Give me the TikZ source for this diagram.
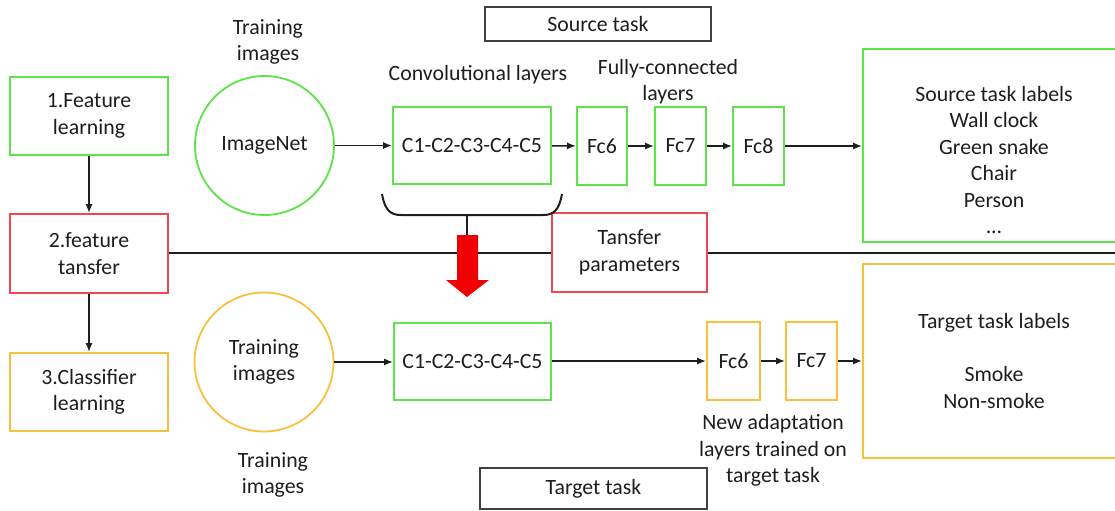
\documentclass[tikz,border=0pt]{standalone}
\usepackage{fontspec}
\setmainfont{Carlito}
\usetikzlibrary{arrows.meta}
\definecolor{cGreen}{RGB}{92,228,72}
\definecolor{cRed}{RGB}{240,72,80}
\definecolor{cOrange}{RGB}{250,192,60}
\definecolor{cInk}{RGB}{30,30,30}
\definecolor{cArrow}{RGB}{240,0,0}
\begin{document}
\begin{tikzpicture}[x=0.5pt,y=-0.5pt,
  font=\fontsize{10.9pt}{13.25pt}\selectfont,
  every node/.style={text=cInk, align=center, inner sep=0pt},
  boxbase/.style={draw, line width=1pt},
  greenbox/.style={boxbase, draw=cGreen},
  redbox/.style={boxbase, draw=cRed},
  orangebox/.style={boxbase, draw=cOrange},
  plainbox/.style={boxbase, draw=cInk!85},
  disc/.style={circle, line width=0.9pt, minimum size=69.5pt},
  conn/.style={draw=cInk, line width=0.8pt, -{Latex[length=4.5pt,width=3.6pt]}},
  rule/.style={draw=cInk, line width=1pt}]
\useasboundingbox (0,0) rectangle (1115,510);
\fill[white] (0,0) rectangle (1115,510);
\clip (0,0) rectangle (1115,510);

% left column: the three stages
\node[greenbox, minimum width=79pt, minimum height=39pt] (stage1) at (89,116) {1.Feature\\learning};
\node[redbox, minimum width=79pt, minimum height=39.5pt] (stage2) at (89,253.5) {2.feature\\tansfer};
\node[orangebox, minimum width=79pt, minimum height=39pt] (stage3) at (89,392) {3.Classifier\\learning};
\draw[conn] (stage1) -- (stage2);
\draw[conn] (stage2) -- (stage3);

% source task row
\node[plainbox, minimum width=113pt, minimum height=17pt] (srctask) at (598,24) {Source task};
\node (trainA) at (268,42) {Training\\images};
\node[disc, draw=cGreen] (imagenet) at (264.5,145.5) {ImageNet};
\node (convlbl) at (478,75) {Convolutional layers};
\node (fclbl) at (668,81.5) {Fully-connected\\layers};
\node[greenbox, minimum width=79pt, minimum height=38.5pt] (convA) at (472,145.5) {C1-C2-C3-C4-C5};
\node[greenbox, minimum width=25pt, minimum height=39pt] (fc6A) at (602,146) {Fc6};
\node[greenbox, minimum width=25.5pt, minimum height=39pt] (fc7A) at (680.5,146) {Fc7};
\node[greenbox, minimum width=25.5pt, minimum height=39pt] (fc8A) at (758.5,146) {Fc8};
\node[greenbox, minimum width=131pt, minimum height=96.5pt] (srclabels) at (994,145.5) {};
\node (srctext) at (994,160) {Source task labels\\Wall clock\\Green snake\\Chair\\Person\\...};
\draw[conn] (imagenet.east) -- (convA.west);
\draw[conn] (convA) -- (fc6A);
\draw[conn] (fc6A) -- (fc7A);
\draw[conn] (fc7A) -- (fc8A);
\draw[conn] (fc8A) -- (srclabels.west |- fc8A);

% transfer of the convolutional parameters
\node[redbox, minimum width=77.5pt, minimum height=39.5pt] (params) at (629.5,252.5) {Tansfer\\parameters};
\coordinate (railend) at (1115,253);
\draw[rule] (stage2.east |- railend) -- (params.west |- railend);
\draw[rule] (params.east |- railend) -- (railend);
\draw[rule] ([xshift=-5pt,yshift=-4.5pt]convA.south west)
  .. controls ([xshift=-3.5pt,yshift=-13pt]convA.south west) and ([xshift=-0.5pt,yshift=-15pt]convA.south west)
  .. ([xshift=4.5pt,yshift=-15pt]convA.south west)
  -- ([xshift=-4.5pt,yshift=-15pt]convA.south east)
  .. controls ([xshift=0.5pt,yshift=-15pt]convA.south east) and ([xshift=3.5pt,yshift=-13pt]convA.south east)
  .. ([xshift=5pt,yshift=-4.5pt]convA.south east);
\coordinate (stemtop) at (467,214);
\coordinate (stembot) at (467,236);
\draw[rule] (stemtop) -- (stembot);
\fill[cArrow] (457,235) -- (478,235) -- (478,280) -- (489,280) -- (467,297)
  -- (446,280) -- (457,280) -- cycle;

% target task row
\node[orangebox, disc, draw=cOrange] (trainimg) at (264,362) {Training\\images};
\node[greenbox, minimum width=78.5pt, minimum height=38.5pt] (convB) at (472.5,361.5) {C1-C2-C3-C4-C5};
\node[orangebox, minimum width=26.5pt, minimum height=39pt] (fc6B) at (733.5,361) {Fc6};
\node[orangebox, minimum width=25.5pt, minimum height=39pt] (fc7B) at (811.5,361) {Fc7};
\node[orangebox, minimum width=131pt, minimum height=97pt] (tgtlabels) at (994,361) {Target task labels\\[13.25pt]Smoke\\Non-smoke};
\node (trainB) at (273,475) {Training\\images};
\node (adapt) at (773,450.5) {New adaptation\\layers trained on\\target task};
\node[plainbox, minimum width=113.5pt, minimum height=20.5pt] (tgttask) at (593.5,488.5) {Target task};
\draw[conn] (trainimg.east) -- (convB.west |- trainimg.east);
\draw[conn] (convB.east |- fc6B) -- (fc6B.west);
\draw[conn] (fc6B) -- (fc7B);
\draw[conn] (fc7B) -- (tgtlabels.west |- fc7B);
\end{tikzpicture}
\end{document}
